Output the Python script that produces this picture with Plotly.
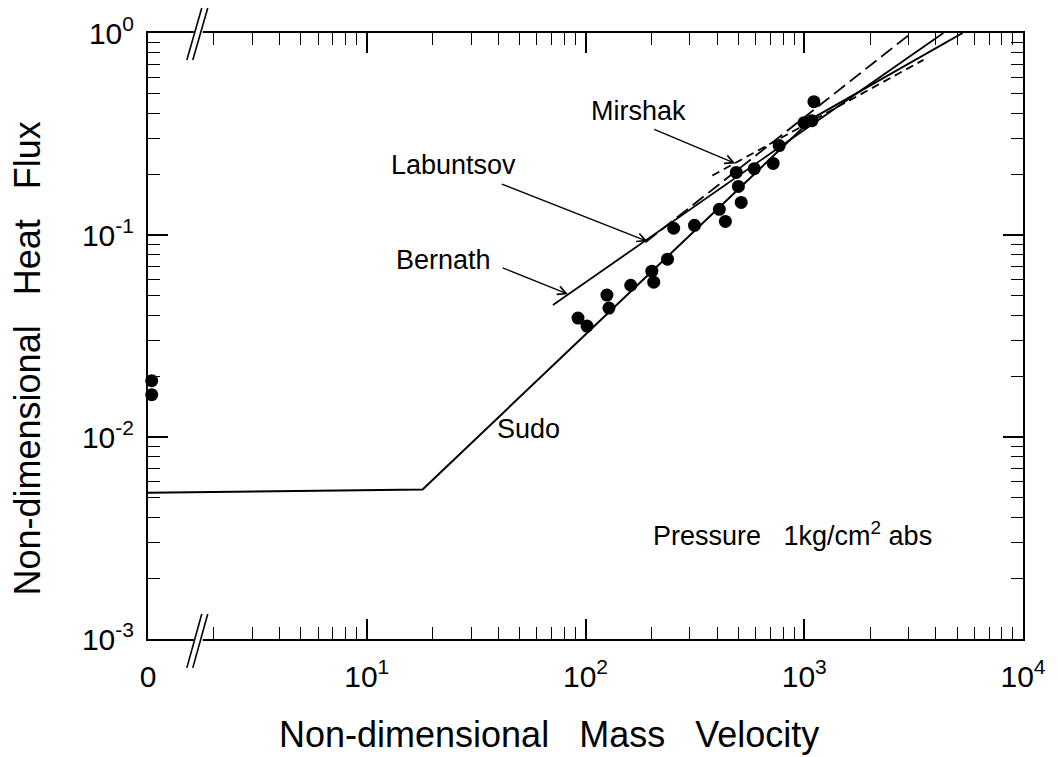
import numpy as np
import plotly.graph_objects as go

# ---------------- data ----------------
# measured points at G* = 0 (drawn on the "0" position of the broken axis)
zero_label = "0"
zero_pos = 1.04
zero_q = [0.019, 0.0162]

# measured points
G_exp = [92.4, 101.6, 125.3, 128, 161, 201, 205, 237, 253, 315, 409,
         436, 500, 489, 515, 591, 721, 768, 997, 1084, 1107]
q_exp = [0.0388, 0.0354, 0.0504, 0.0435, 0.0564, 0.0662, 0.0584, 0.0759,
         0.108, 0.1116, 0.134, 0.1168, 0.174, 0.204, 0.145, 0.213, 0.226,
         0.277, 0.360, 0.368, 0.457]

# correlations
sudo_G = [1, 18, 1100, 5300]
sudo_q = [0.0053, 0.0055, 0.38, 1.0]
bernath_G = [71, 4325]
bernath_q = [0.045, 1.0]
labuntsov_G = [188, 3090]
labuntsov_q = [0.092, 1.0]
mirshak_G = [380, 3508]
mirshak_q = [0.197, 0.736]

x_tickvals = [1, 10, 100, 1000, 10000]
x_ticktext = [zero_label, "10<sup>1</sup>", "10<sup>2</sup>", "10<sup>3</sup>", "10<sup>4</sup>"]
y_tickvals = [0.001, 0.01, 0.1, 1]
y_ticktext = ["10<sup>-3</sup>", "10<sup>-2</sup>", "10<sup>-1</sup>", "10<sup>0</sup>"]

FONT = "Liberation Sans, Arial, sans-serif"
BLACK = "black"

fig = go.Figure()

fig.add_trace(go.Scatter(x=sudo_G, y=sudo_q, mode="lines",
                         line=dict(color=BLACK, width=2), showlegend=False))
fig.add_trace(go.Scatter(x=bernath_G, y=bernath_q, mode="lines",
                         line=dict(color=BLACK, width=1.8), showlegend=False))
fig.add_trace(go.Scatter(x=labuntsov_G, y=labuntsov_q, mode="lines",
                         line=dict(color=BLACK, width=1.8, dash="14px,6px"),
                         showlegend=False))
fig.add_trace(go.Scatter(x=mirshak_G, y=mirshak_q, mode="lines",
                         line=dict(color=BLACK, width=1.8, dash="8px,5px"),
                         showlegend=False))
fig.add_trace(go.Scatter(x=G_exp, y=q_exp, mode="markers",
                         marker=dict(color=BLACK, size=13), showlegend=False))
fig.add_trace(go.Scatter(x=[zero_pos] * len(zero_q), y=zero_q, mode="markers",
                         marker=dict(color=BLACK, size=13), cliponaxis=False,
                         showlegend=False))

L, R, T, B = 148, 31, 31, 118
W, H = 1058, 757
PW, PH = W - L - R, H - T - B


def pxp(px, py):
    return (px - L) / PW, (H - B - py) / PH


axis_common = dict(
    type="log", showgrid=False, zeroline=False, showline=True,
    linecolor=BLACK, linewidth=2, mirror="allticks", ticks="inside",
    ticklen=20, tickwidth=1.6, tickcolor=BLACK,
    tickfont=dict(family=FONT, size=30, color=BLACK),
    minor=dict(ticks="inside", ticklen=12, tickwidth=1.3, tickcolor=BLACK,
               dtick="D1", showgrid=False),
)

fig.update_layout(
    width=W, height=H,
    margin=dict(l=L, r=R, t=T, b=B, pad=0),
    paper_bgcolor="white", plot_bgcolor="white",
    font=dict(family=FONT, color=BLACK),
    xaxis=dict(range=[0, 4], tickmode="array", tickvals=x_tickvals,
               ticktext=x_ticktext, ticklabelstandoff=10, **axis_common),
    yaxis=dict(range=[-3, 0], tickmode="array", tickvals=y_tickvals,
               ticktext=y_ticktext, ticklabelstandoff=6, **axis_common),
)

lg = np.log10
anns = []
# axis titles
tx, ty = pxp(551, 735)
anns.append(dict(xref="paper", yref="paper", x=tx, y=ty, showarrow=False,
                 text="Non-dimensional\u00a0\u00a0 Mass\u00a0\u00a0 Velocity",
                 font=dict(size=36), xanchor="center", yanchor="middle"))
tx, ty = pxp(27, 358)
anns.append(dict(xref="paper", yref="paper", x=tx, y=ty, showarrow=False,
                 text="Non-dimensional\u00a0\u00a0 Heat\u00a0\u00a0 Flux", textangle=-90,
                 font=dict(size=36), xanchor="center", yanchor="middle"))

# labels (positions in G*, q* units)
labels = [
    ("Mirshak", 175, 0.41, "center"),
    ("Labuntsov", 12.6, 0.223, "left"),
    ("Bernath", 13.3, 0.075, "left"),
    ("Sudo", 55, 0.011, "center"),
    ("Pressure\u00a0\u00a0 1kg/cm<sup>2</sup> abs", 199, 0.0033, "left"),
]
for text, gx, qy, anc in labels:
    anns.append(dict(x=lg(gx), y=lg(qy), xref="x", yref="y", text=text,
                     showarrow=False, xanchor=anc, yanchor="middle",
                     font=dict(size=27)))

# arrows: (tail G, tail q, head G, head q)
arrows = [
    (203, 0.336, 484, 0.226),
    (40.8, 0.180, 192, 0.093),
    (41.2, 0.0692, 83.2, 0.0509),
]
for tg, tq, hg, hq in arrows:
    anns.append(dict(x=lg(hg), y=lg(hq), ax=lg(tg), ay=lg(tq), xref="x", yref="y",
                     axref="x", ayref="y", text="", showarrow=True,
                     arrowhead=5, arrowsize=1.3, arrowwidth=1.3, arrowcolor=BLACK,
                     standoff=0))
fig.update_layout(annotations=anns)

# axis break marks (//) on bottom and top axes
shapes = []
for (py_lo, py_hi) in [(668, 614), (58, 6)]:
    x0, _ = pxp(194, 0)
    x1, _ = pxp(203, 0)
    ymid = (H - B - (639 if py_lo > 300 else 31)) / PH
    shapes.append(dict(type="line", xref="paper", yref="paper", x0=x0, x1=x1,
                       y0=ymid, y1=ymid, line=dict(color="white", width=5)))
    for off in (0, 6):
        ax0, ay0 = pxp(187 + off, py_lo)
        ax1, ay1 = pxp(202 + off, py_hi)
        shapes.append(dict(type="line", xref="paper", yref="paper", x0=ax0, y0=ay0,
                           x1=ax1, y1=ay1, line=dict(color=BLACK, width=1.6)))
fig.update_layout(shapes=shapes)

fig.write_html("out.html")
